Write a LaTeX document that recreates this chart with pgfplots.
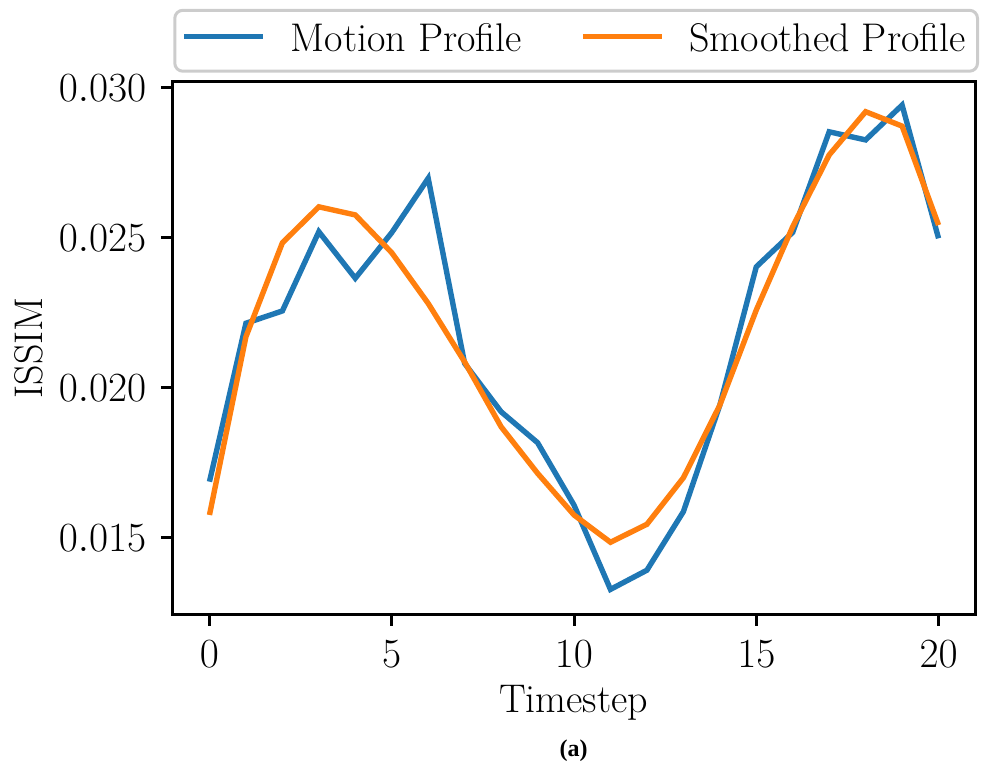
\documentclass[border=0pt]{standalone}
\usepackage{fontspec}
\newfontfamily\capfont{Liberation Serif}
\usepackage{pgfplots}
\pgfplotsset{compat=1.18}
\definecolor{mblue}{HTML}{1F77B4}
\definecolor{morange}{HTML}{FF7F0E}
\begin{document}
\begin{tikzpicture}
\begin{axis}[
  scale only axis,
  width=401.35pt, height=266.3pt,
  xmin=-1.02, xmax=21.0,
  ymin=0.01245, ymax=0.0302,
  axis line style={line width=1.5pt},
  every tick/.style={black, line width=1.5pt},
  tick align=outside,
  major tick length=5.7pt,
  xtick={0,5,10,15,20},
  ytick={0.015,0.020,0.025,0.030},
  xtick pos=bottom, ytick pos=left,
  scaled y ticks=false,
  tick label style={font=\fontsize{20}{24}\selectfont},
  xticklabel style={yshift=-3.8pt},
  yticklabel style={xshift=-3.8pt, /pgf/number format/.cd, fixed, fixed zerofill, precision=3},
  xlabel={Timestep},
  ylabel={ISSIM},
  every axis x label/.style={at={([yshift=-49.35pt]rel axis cs:0.5,0)}, anchor=base, font=\fontsize{20}{24}\selectfont},
  every axis y label/.style={at={([xshift=-65pt]rel axis cs:0,0.5)}, rotate=90, anchor=base, font=\fontsize{20}{24}\selectfont},
  clip=false,
  legend columns=2,
  legend cell align=left,
  legend image code/.code={\draw[#1] (0pt,2.2pt) -- (39.5pt,2.2pt);},
  legend style={at={([xshift=0.5pt,yshift=4.5pt]rel axis cs:0,1)}, anchor=south west,
    draw=black!20, line width=1.5pt, rounded corners=4pt,
    font=\fontsize{20}{24}\selectfont,
    inner xsep=3.35pt, inner ysep=6.4pt,
    nodes={inner sep=0pt, text depth=3.6pt},
    /tikz/every odd column/.append style={column sep=12.5pt},
    /tikz/every even column/.append style={column sep=29pt},
  },
]
\addplot[mblue, line width=2.7pt] coordinates {
(0,0.01687) (1,0.02215) (2,0.02256) (3,0.0252) (4,0.02365) (5,0.02517)
(6,0.02698) (7,0.02081) (8,0.0192) (9,0.01817) (10,0.01609) (11,0.01328)
(12,0.01392) (13,0.01587) (14,0.01942) (15,0.02403) (16,0.02518)
(17,0.02853) (18,0.02826) (19,0.02942) (20,0.02498)};
\addlegendentry{Motion Profile}
\addplot[morange, line width=2.7pt] coordinates {
(0,0.01576) (1,0.0217) (2,0.02483) (3,0.02603) (4,0.02576) (5,0.0245)
(6,0.02281) (7,0.02086) (8,0.0187) (9,0.01715) (10,0.01576) (11,0.01485)
(12,0.01545) (13,0.017) (14,0.01942) (15,0.02259) (16,0.02537)
(17,0.02776) (18,0.0292) (19,0.02872) (20,0.02542)};
\addlegendentry{Smoothed Profile\hspace*{2.5pt}}
\node[font=\capfont\bfseries\fontsize{12}{14}\selectfont, anchor=base] at ([yshift=-71.35pt]rel axis cs:0.5,0) {(a)};
\path ([xshift=-86.15pt,yshift=-77.85pt]rel axis cs:0,0) rectangle ([xshift=3pt,yshift=40.85pt]rel axis cs:1,1);
\end{axis}
\end{tikzpicture}
\end{document}
